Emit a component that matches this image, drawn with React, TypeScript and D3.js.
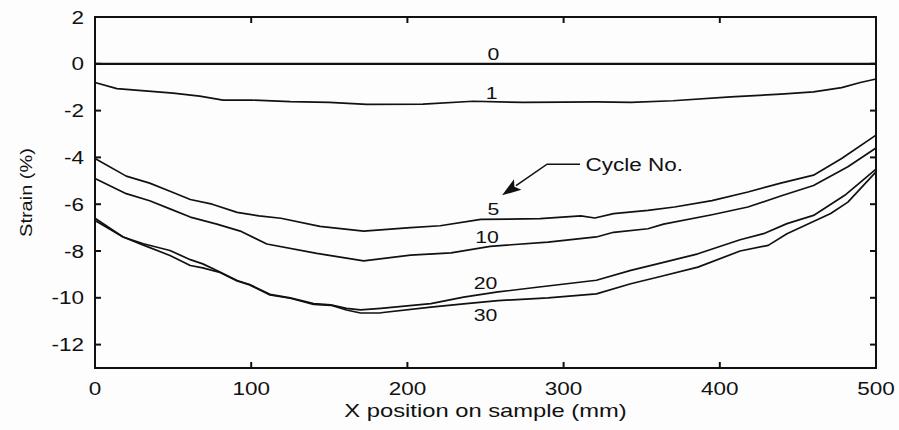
import { useEffect, useRef } from "react"
import * as d3 from "d3"

// strain profiles: [x position (mm), strain (%)]
const cycle0: [number, number][] = [
  [0, 0],
  [500, 0],
]
const cycle1: [number, number][] = [
  [0, -0.8], [14, -1.06], [30, -1.15], [50, -1.25], [67, -1.38], [82, -1.55],
  [100, -1.55], [125, -1.62], [150, -1.65], [174, -1.73], [210, -1.72],
  [242, -1.6], [274, -1.65], [300, -1.64], [321, -1.63], [343, -1.65],
  [370, -1.58], [407, -1.41], [439, -1.3], [460, -1.2], [478, -1.02],
  [490, -0.8], [500, -0.65],
]
const cycle5: [number, number][] = [
  [0, -4.05], [20, -4.8], [35, -5.1], [48, -5.45], [61, -5.8], [75, -6.0],
  [91, -6.35], [105, -6.5], [119, -6.6], [144, -6.95], [172, -7.15],
  [202, -7.0], [221, -6.92], [247, -6.65], [285, -6.62], [311, -6.5],
  [320, -6.59], [332, -6.4], [354, -6.26], [371, -6.12], [395, -5.85],
  [418, -5.48], [439, -5.1], [460, -4.76], [478, -4.05], [500, -3.05],
]
const cycle10: [number, number][] = [
  [0, -4.9], [20, -5.55], [35, -5.85], [48, -6.2], [61, -6.55], [78, -6.85],
  [93, -7.15], [110, -7.7], [142, -8.1], [172, -8.42], [202, -8.18],
  [228, -8.08], [253, -7.8], [290, -7.62], [321, -7.4], [332, -7.2],
  [354, -7.05], [364, -6.85], [395, -6.45], [418, -6.12], [439, -5.65],
  [460, -5.2], [482, -4.4], [500, -3.6],
]
const cycle20: [number, number][] = [
  [0, -6.7], [18, -7.4], [31, -7.69], [48, -7.98], [61, -8.37], [69, -8.55],
  [80, -8.9], [91, -9.26], [99, -9.43], [112, -9.85], [125, -10.0],
  [140, -10.25], [151, -10.3], [161, -10.45], [170, -10.52], [183, -10.45],
  [215, -10.25], [236, -9.97], [258, -9.75], [283, -9.55], [321, -9.25],
  [343, -8.83], [362, -8.52], [386, -8.12], [413, -7.52], [428, -7.26],
  [443, -6.83], [460, -6.48], [480, -5.62], [500, -4.5],
]
const cycle30: [number, number][] = [
  [0, -6.6], [18, -7.4], [31, -7.75], [48, -8.19], [61, -8.62], [69, -8.72],
  [80, -8.92], [91, -9.28], [99, -9.45], [112, -9.88], [125, -10.02],
  [140, -10.28], [151, -10.32], [161, -10.52], [170, -10.65], [183, -10.64],
  [215, -10.4], [236, -10.26], [258, -10.12], [290, -10.0], [321, -9.83],
  [343, -9.4], [362, -9.09], [386, -8.69], [413, -8.0], [431, -7.76],
  [443, -7.26], [471, -6.4], [482, -5.91], [500, -4.62],
]

const cycleNames = ["0", "1", "5", "10", "20", "30"]
const cycleSeries = [cycle0, cycle1, cycle5, cycle10, cycle20, cycle30]
// where each cycle number sits (data units, text baseline)
const labelX = [255, 254, 255, 251, 250, 250]
const labelY = [0.16, -1.5, -6.48, -7.66, -9.64, -10.98]

const xTicks = [0, 100, 200, 300, 400, 500]
const yTicks = [2, 0, -2, -4, -6, -8, -10, -12]

// "Cycle No." pointer, data units
const noteText = "Cycle No."
const noteAt: [number, number] = [314, -4.58]
const notePath: [number, number][] = [
  [310.5, -4.29],
  [289.4, -4.29],
  [260.6, -5.62],
]

const W = 899
const H = 430
const margin = { top: 17, right: 23, bottom: 62, left: 95 }
const FONT = "'Liberation Sans', Arial, sans-serif"
const SX = 1.25 // the scan's type is stretched sideways

export default function App() {
  const ref = useRef<SVGSVGElement>(null)

  useEffect(() => {
    const svg = d3.select(ref.current)
    svg.selectAll("*").remove()

    const x = d3
      .scaleLinear()
      .domain([0, 500])
      .range([margin.left, W - margin.right])
    const y = d3
      .scaleLinear()
      .domain([-13, 2])
      .range([H - margin.bottom, margin.top])

    const [x0, x1] = x.range()
    const [y0, y1] = y.range()

    const text = (
      g: d3.Selection<any, any, any, any>,
      tx: number,
      ty: number,
      s: string,
      size: number,
      anchor = "middle",
      rot = 0
    ) =>
      g
        .append("text")
        .attr(
          "transform",
          `translate(${tx},${ty}) rotate(${rot}) scale(${SX},1)`
        )
        .attr("text-anchor", anchor)
        .attr("font-family", FONT)
        .attr("font-size", size)
        .attr("fill", "#111")
        .text(s)

    svg.append("rect").attr("width", W).attr("height", H).attr("fill", "#fdfdfd")

    // curves
    const line = d3
      .line<[number, number]>()
      .x((d) => x(d[0]))
      .y((d) => y(d[1]))

    svg
      .append("g")
      .selectAll("path")
      .data(cycleSeries)
      .join("path")
      .attr("d", (d) => line(d))
      .attr("fill", "none")
      .attr("stroke", "#111")
      .attr("stroke-width", (d, i) => (i === 0 ? 2.2 : 1.7))
      .attr("stroke-linejoin", "round")

    const labels = svg.append("g")
    cycleNames.forEach((n, i) => {
      text(labels, x(labelX[i]), y(labelY[i]), n, 17)
    })

    // ticks, pointing inward on all four sides
    const tl = 6
    const ticks = svg
      .append("g")
      .attr("stroke", "#111")
      .attr("stroke-width", 2)
    yTicks.forEach((v) => {
      ticks.append("line").attr("x1", x0).attr("x2", x0 + tl).attr("y1", y(v)).attr("y2", y(v))
      ticks.append("line").attr("x1", x1).attr("x2", x1 - tl).attr("y1", y(v)).attr("y2", y(v))
    })
    xTicks.forEach((v) => {
      ticks.append("line").attr("x1", x(v)).attr("x2", x(v)).attr("y1", y0).attr("y2", y0 - tl)
      ticks.append("line").attr("x1", x(v)).attr("x2", x(v)).attr("y1", y1).attr("y2", y1 + tl)
    })

    svg
      .append("rect")
      .attr("x", x0)
      .attr("y", y1)
      .attr("width", x1 - x0)
      .attr("height", y0 - y1)
      .attr("fill", "none")
      .attr("stroke", "#111")
      .attr("stroke-width", 2)

    const axisText = svg.append("g")
    yTicks.forEach((v) => {
      text(axisText, x0 - 11, y(v) + 6.5, String(v), 18, "end")
    })
    xTicks.forEach((v) => {
      text(axisText, x(v), y0 + 27, String(v), 18)
    })
    text(axisText, (x0 + x1) / 2, H - 13, "X position on sample (mm)", 19)
    text(axisText, 32, (y0 + y1) / 2, "Strain (%)", 16, "middle", -90)

    // annotation
    const note = svg.append("g")
    const pts = notePath.map(([a, b]) => [x(a), y(b)] as [number, number])
    const [tipX, tipY] = pts[pts.length - 1]
    const [px, py] = pts[pts.length - 2]
    const len = Math.hypot(tipX - px, tipY - py)
    const ux = (tipX - px) / len
    const uy = (tipY - py) / len
    const hl = 19
    const hw = 6.5
    const bx = tipX - ux * hl
    const by = tipY - uy * hl
    note
      .append("path")
      .attr("d", d3.line()([...pts.slice(0, -1), [bx + ux * 2, by + uy * 2]]))
      .attr("fill", "none")
      .attr("stroke", "#111")
      .attr("stroke-width", 1.6)
    note
      .append("path")
      .attr(
        "d",
        `M${tipX},${tipY}L${bx - uy * hw},${by + ux * hw}L${bx + ux * 4},${by + uy * 4}L${bx + uy * hw},${by - ux * hw}Z`
      )
      .attr("fill", "#111")
    text(note, x(noteAt[0]), y(noteAt[1]), noteText, 18, "start")
  }, [])

  return (
    <svg
      ref={ref}
      width={W}
      height={H}
      viewBox={`0 0 ${W} ${H}`}
      style={{ position: "absolute", left: 0, top: 0 }}
    />
  )
}
